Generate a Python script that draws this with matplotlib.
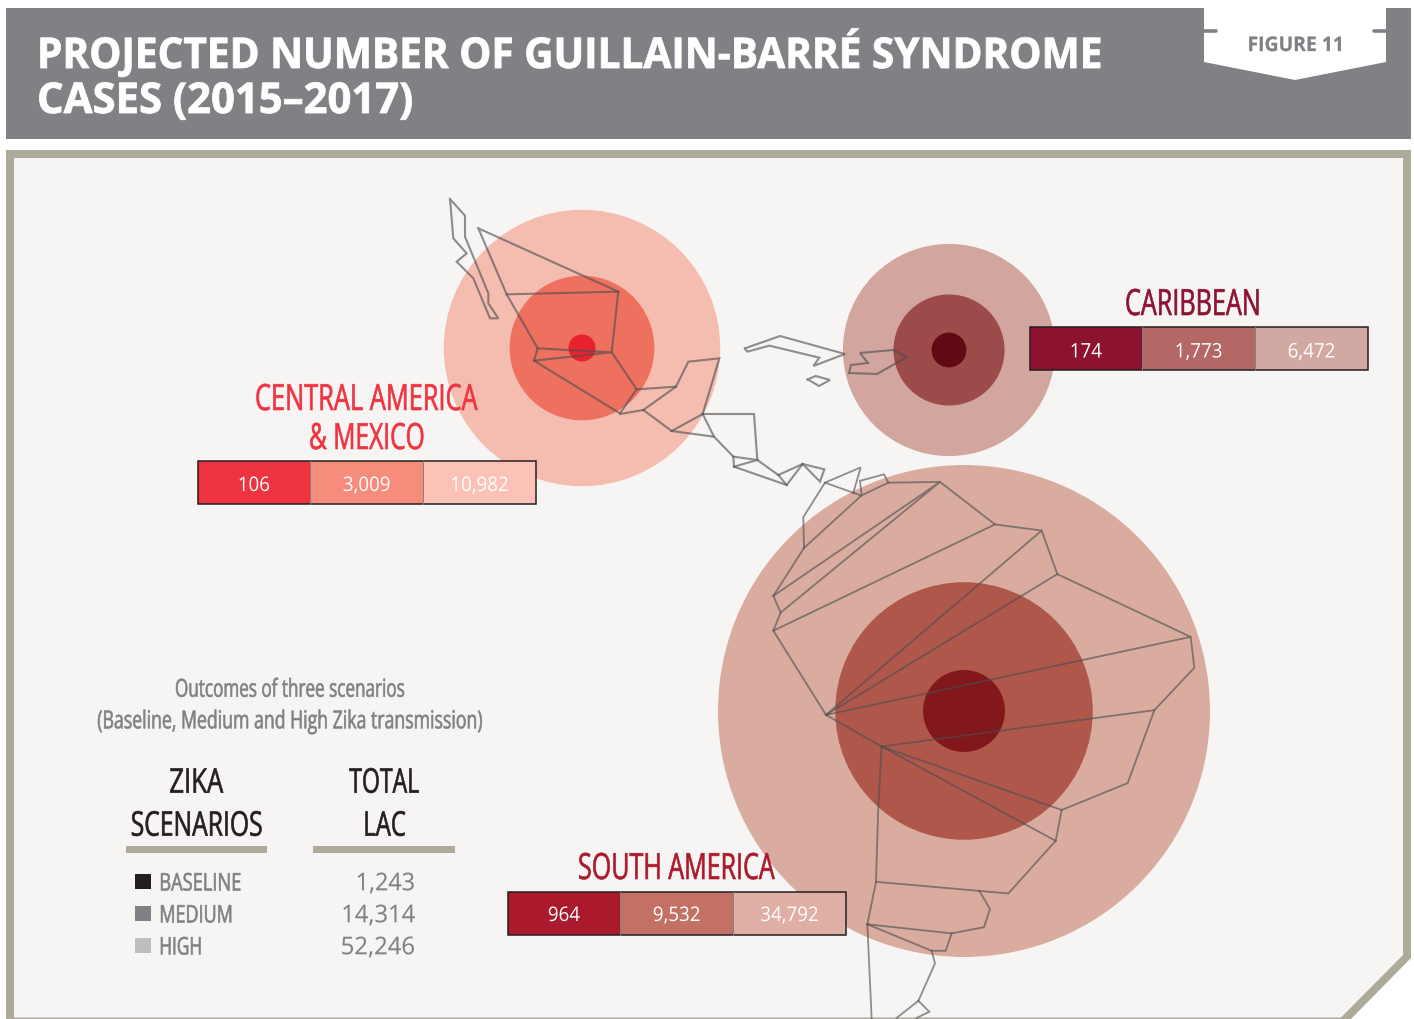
import numpy as np
import matplotlib
matplotlib.use("Agg")
import matplotlib.pyplot as plt
from matplotlib.patches import Circle, Polygon, Rectangle
from matplotlib.patheffects import AbstractPathEffect
from matplotlib.transforms import Affine2D

W, H = 1414, 1019
BG = "#f7f5f3"
FRAME = "#adaa99"
HEADER = "#808184"
FONT = ["Open Sans", "DejaVu Sans"]

title_lines = ["PROJECTED NUMBER OF GUILLAIN-BARRÉ SYNDROME", "CASES (2015–2017)"]
figure_label = "FIGURE 11"

baseline = [106, 174, 964]
medium = [3009, 1773, 9532]
high = [10982, 6472, 34792]

centres = [(582, 348), (949, 350), (964, 711)]
circle_colors = [
    ["#f4bdb0", "#ee7160", "#e8232f"],
    ["#d2a69e", "#9c4a4a", "#600a14"],
    ["#d9ac9f", "#b0574b", "#82181c"],
]
bar_colors = [
    ["#ef3340", "#f58c7c", "#fcc2b6"],
    ["#8c1230", "#b36865", "#d2a8a2"],
    ["#ab1a2c", "#c47165", "#dfaea4"],
]
title_colors = ["#ef3340", "#8c1230", "#ab1a2c"]

scenario_names = ["BASELINE", "MEDIUM", "HIGH"]
scenario_totals = ["1,243", "14,314", "52,246"]
scenario_colors = ["#231f20", "#808184", "#bcbec0"]

mexico_paths = [
    [(60,27),(105,77),(105,140),(175,310),(175,340),(205,385),(180,385),(130,265),(80,215),(110,190),(70,145),(60,27)],
    [(145,115),(565,305),(545,487),(620,598),(570,670),(312,512),(323,475),(230,313),(145,115)],
    [(230,313),(565,305)],
    [(323,475),(545,487),(312,512)],
    [(620,598),(738,590),(775,515),(868,505),(818,672),(725,723),(640,660),(570,672)],
    [(738,590),(640,660)],
    [(818,672),(972,672),(982,810),(912,830),(910,800),(982,810)],
    [(725,723),(852,740),(818,672)],
    [(852,740),(910,800)],
    [(912,830),(1070,885),(1118,822),(1183,838),(1170,875),(1118,822)],
    [(982,810),(1045,855),(1070,885)],
    [(1045,855),(1118,822)],
    [(945,475),(1050,438),(1245,492),(1150,528),(1168,503),(1018,467),(952,485),(945,475)],
    [(1133,568),(1157,558),(1200,570),(1167,588),(1133,568)],
]
hispaniola = [(849,373),(851,365),(868,363),(860,353),(893,350),(907,357),(877,374),(849,373)]
south_paths = [
    [(192,270),(190,185),(255,90),(362,48),(340,118)],
    [(255,90),(362,125)],
    [(365,125),(360,85),(432,67),(445,90),(365,125),(192,270),(100,402),(122,448),(100,498),(258,730),(425,817),(415,980),(408,1190),(382,1307),(395,1568)],
    [(100,402),(600,88),(122,448)],
    [(445,90),(600,88),(765,205),(100,498)],
    [(765,205),(905,222),(258,730)],
    [(905,222),(952,342),(258,730)],
    [(952,342),(1352,515),(258,730)],
    [(1352,515),(1363,600),(1243,717),(425,817)],
    [(1243,717),(1163,918),(965,992),(425,817)],
    [(965,992),(947,1077),(425,817)],
    [(947,1077),(805,1222),(408,1190)],
    [(718,1215),(750,1265),(732,1315),(635,1332),(382,1307)],
    [(635,1332),(617,1380),(575,1380),(382,1307)],
    [(575,1380),(585,1415),(535,1518),(470,1565)],
    [(535,1518),(568,1548),(530,1565)],
]


class Squeeze(AbstractPathEffect):
    # no condensed font here, so narrow the glyphs about an anchor
    # and thicken them a little with a stroke
    def __init__(self, fx, cx, stroke=0.0):
        super().__init__()
        self.fx = fx
        self.cx = cx
        self.stroke = stroke

    def draw_path(self, renderer, gc, tpath, affine, rgbFace=None):
        extra = Affine2D().translate(-self.cx, 0).scale(self.fx, 1).translate(self.cx, 0)
        gc0 = renderer.new_gc()
        gc0.copy_properties(gc)
        gc0.set_foreground(rgbFace)
        gc0.set_linewidth(self.stroke)
        renderer.draw_path(gc0, tpath, affine + extra, rgbFace)
        gc0.restore()


fig = plt.figure(figsize=(W / 100, H / 100), dpi=100, facecolor="white")
ax = fig.add_axes([0, 0, 1, 1])
ax.set_xlim(0, W)
ax.set_ylim(H, 0)
ax.axis("off")
rend = fig.canvas.get_renderer()


def fit(x0, x1, y, s, color, size, weight="normal", stroke=0.45):
    # put s on baseline y so that it runs from x0 to x1
    t = ax.text(x0, y, s, color=color, fontsize=size, fontweight=weight, family=FONT, va="baseline", zorder=5)
    w = t.get_window_extent(rend).width
    t.set_path_effects([Squeeze((x1 - x0) / w, x0, stroke)])
    return t


# header band and tab
ax.add_patch(Rectangle((6, 8), 1405, 131, fc=HEADER, ec="none"))
ax.add_patch(Polygon([(1204, 8), (1386, 8), (1386, 62), (1295, 80), (1204, 62)], fc="white", ec="none"))
ax.plot([1204, 1216], [31, 31], color=HEADER, lw=2.6, solid_capstyle="round")
ax.plot([1374, 1386], [31, 31], color=HEADER, lw=2.6, solid_capstyle="round")
fit(37, 1102, 68, title_lines[0], "white", 30.5, "bold", 0.6)
fit(37, 414, 113, title_lines[1], "white", 30.5, "bold", 0.6)
fit(1247.5, 1344, 51, figure_label, HEADER, 14.5, "bold", 0.2)

# frame with cut corner
ax.add_patch(Polygon([(6, 150), (1411, 150), (1411, 958), (1351, 1019), (6, 1019)], fc=FRAME, ec="none"))
ax.add_patch(Polygon([(14, 158), (1403, 158), (1403, 955), (1341, 1017.5), (14, 1017.5)], fc=BG, ec="none"))

# circle area goes with the value
scale = 246 / np.sqrt(high[2])
for k, c in enumerate(centres):
    vals = [high[k], medium[k], baseline[k]]
    for v, col in zip(vals, circle_colors[k]):
        ax.add_patch(Circle(c, scale * np.sqrt(v), fc=col, ec="none"))

# map outlines
LINE = dict(color="#4d4d4f", alpha=0.62, solid_joinstyle="miter")
for p in mexico_paths:
    a = np.array(p) / 3 + [430, 190]
    ax.plot(a[:, 0], a[:, 1], lw=1.5, **LINE)
a = np.array(hispaniola)
ax.plot(a[:, 0], a[:, 1], lw=1.5, **LINE)
for p in south_paths:
    a = np.array(p, dtype=float) * [1 / 3, 569 / 1568] + [740, 450]
    ax.plot(a[:, 0], a[:, 1], lw=1.3, **LINE)

# region titles
fit(255, 478, 410, "CENTRAL AMERICA", title_colors[0], 26)
fit(309, 425, 449, "& MEXICO", title_colors[0], 26)
fit(1125, 1261, 315, "CARIBBEAN", title_colors[1], 26)
fit(578, 775, 879, "SOUTH AMERICA", title_colors[2], 26)

# value strips
bar_pos = [(197.5, 461), (1029.5, 327), (507.5, 892)]
label_y = [491, 357.5, 921]
bar_w, bar_h = 112.8, 43
for k in range(3):
    x0, y0 = bar_pos[k]
    vals = [baseline[k], medium[k], high[k]]
    for j, v in enumerate(vals):
        ax.add_patch(Rectangle((x0 + j * bar_w, y0), bar_w, bar_h, fc=bar_colors[k][j], ec="none"))
        cx = x0 + (j + 0.5) * bar_w
        t = ax.text(cx, label_y[k], f"{v:,}", color="white", fontsize=14.5, family=FONT, ha="center", va="baseline", zorder=5)
        t.set_path_effects([Squeeze(0.93, cx)])
    for j in [1, 2]:
        ax.plot([x0 + j * bar_w] * 2, [y0, y0 + bar_h], color="#808184", lw=0.7)
    ax.add_patch(Rectangle((x0, y0), bar_w * 3, bar_h, fc="none", ec="#231f20", lw=1.1))

# legend table
GREY = "#808184"
DARK = "#231f20"
fit(175, 405, 696.7, "Outcomes of three scenarios", GREY, 17.8)
fit(97.3, 482.7, 728.3, "(Baseline, Medium and High Zika transmission)", GREY, 17.8)
fit(169.3, 223.3, 792.7, "ZIKA", DARK, 24.5)
fit(130.7, 262.7, 835.7, "SCENARIOS", DARK, 24.5)
fit(349.3, 419.3, 792.7, "TOTAL", DARK, 24.5)
fit(363.3, 406, 835.7, "LAC", DARK, 24.5)
ax.add_patch(Rectangle((126, 846), 141.3, 7.3, fc=FRAME, ec="none"))
ax.add_patch(Rectangle((313.3, 846), 141.7, 7.3, fc=FRAME, ec="none"))
name_right = [241.3, 232.7, 202]
total_left = [355.7, 341.3, 340.7]
for i in range(3):
    y = 890.5 + i * 32
    ax.add_patch(Rectangle((135, y - 16.8), 16.3, 15.6, fc=scenario_colors[i], ec="none"))
    fit(159.3, name_right[i], y, scenario_names[i], GREY, 17.5)
    fit(total_left[i], 415, y - 0.3, scenario_totals[i], GREY, 17.5, stroke=0.1)

fig.savefig("out.png", dpi=100)
